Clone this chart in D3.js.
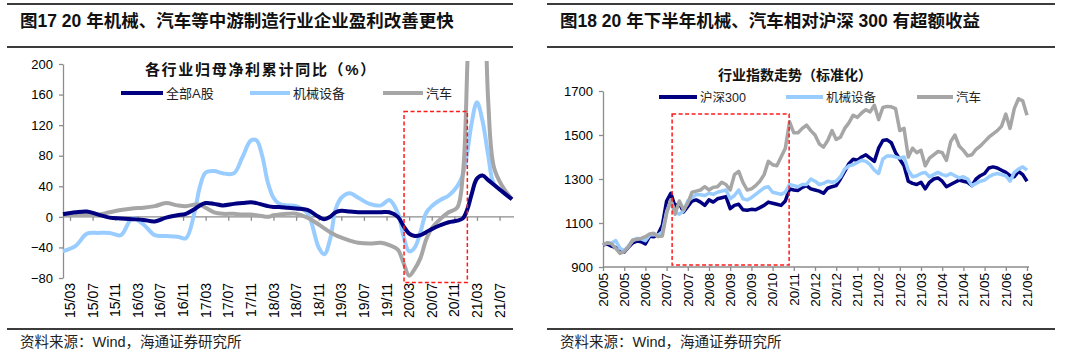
<!DOCTYPE html>
<html><head><meta charset="utf-8">
<script src="https://cdn.jsdelivr.net/npm/d3@7"></script>
<style>
body{margin:0;background:#fff;}
svg text{font-family:"Liberation Sans","Noto Sans CJK SC",sans-serif;}
</style></head><body>
<svg id="c" width="1080" height="357"></svg>
<script>
// ---------------- DATA ----------------
const leftFigTitle = "图17 20 年机械、汽车等中游制造行业企业盈利改善更快";
const rightFigTitle = "图18 20 年下半年机械、汽车相对沪深 300 有超额收益";
const sourceText = "资料来源：Wind，海通证券研究所";

const leftChartTitle = "各行业归母净利累计同比（%）";
const leftSeriesNames = ["全部A股", "机械设备", "汽车"];
const leftXLabels = ["15/03","15/07","15/11","16/03","16/07","16/11","17/03","17/07","17/11","18/03","18/07","18/11","19/03","19/07","19/11","20/03","20/07","20/11","21/03","21/07"];
const leftLabelMonths = [0,4,8,12,16,20,24,28,32,36,40,44,48,52,56,60,64,68,72,76]; // months since 15/03
const leftYTicks = [-80,-40,0,40,80,120,160,200];
// months since 2015/03 at which values are read
const leftMonths = [-1.24,1,3,5,7,9,11,13,15,17,19,20.5,22,23,24,25.5,27,29,30.5,32,33,34,35,36,37,38.5,40,42,44,45,46,47,48,49.5,51,53,55,56.5,58,59,60,61,62,63,64,65.5,67,68.5,69.5,70.3,71,72,73,74,75,76.5,78.2];
const allA = [3.5,6,7,3,-1,-2,-3,-4,-6,-1,2,4,10,15,18,17,15,17,18,19,18,16,14,13,13,12,11,9,0,-3,0,6,8,7,6,6,6,6,0,-12,-22,-25,-24,-20,-16,-11,-7,-5,-2,10,28,50,54,48,42,33,23];
const machinery = [-45,-38,-22,-21,-21,-24,-2,-10,-24,-25,-26,-28,5,40,58,60,57,57,78,100,100,80,45,25,17,15,14,5,-40,-49,-30,10,25,31,25,17,15,22,5,-25,-45,-40,-20,5,14,22,28,40,55,85,120,150,125,80,43,33,23];
const auto = [4,3,3,3,6,9,11,12,14,18,15,14,16,16,12,6,4,4,3,3,2,1,0,2,3,4,4,-1,-10,-15,-20,-24,-27,-31,-34,-35,-34,-37,-43,-60,-77,-68,-54,-30,-15,-3,6,12,55,200,400,500,400,150,65,40,23];
const leftBoxMonths = [59.1, 70.3];
const leftBoxValues = [138, -86];

const rightChartTitle = "行业指数走势（标准化）";
const rightSeriesNames = ["沪深300", "机械设备", "汽车"];
const rightXLabels = ["20/05","20/05","20/06","20/07","20/07","20/08","20/09","20/09","20/10","20/11","20/12","20/12","21/01","21/02","21/02","21/03","21/04","21/04","21/05","21/06","21/06"];
const rightYTicks = [900,1100,1300,1500,1700];
const hs300 = [1000,1005,995,988,972,968,990,1010,1018,1015,
 1005,1040,1038,1050,1090,1200,1235,1175,1190,1150,
 1175,1200,1205,1195,1180,1205,1195,1210,1215,1220,
 1165,1180,1185,1160,1158,1162,1160,1170,1180,1195,
 1190,1185,1180,1200,1255,1250,1248,1262,1270,1255,
 1250,1245,1235,1258,1265,1270,1300,1335,1370,1390,
 1385,1400,1410,1395,1380,1440,1475,1478,1465,1420,
 1390,1360,1290,1280,1275,1285,1255,1285,1300,1305,
 1290,1265,1275,1285,1295,1290,1285,1270,1300,1315,
 1325,1350,1355,1350,1340,1330,1315,1310,1335,1320,1290];
const machIdx = [1000,1010,1008,1020,985,975,995,1020,1030,1028,
 1020,1045,1048,1045,1060,1150,1200,1150,1140,1155,
 1200,1215,1230,1228,1225,1235,1230,1240,1245,1250,
 1210,1225,1250,1210,1205,1215,1230,1245,1260,1265,
 1240,1235,1230,1240,1275,1270,1265,1275,1275,1300,
 1290,1275,1280,1290,1285,1290,1310,1345,1360,1365,
 1375,1385,1380,1365,1340,1325,1390,1405,1405,1400,
 1395,1400,1340,1310,1315,1325,1330,1310,1320,1330,
 1320,1315,1325,1315,1305,1310,1300,1270,1280,1290,
 1295,1310,1320,1325,1320,1315,1290,1330,1345,1355,1340];
const autoIdx = [1000,1010,1005,985,962,970,992,1023,1026,1030,
 1038,1050,1053,1038,1041,1144,1205,1140,1200,1160,
 1190,1240,1245,1250,1265,1250,1262,1265,1285,1275,
 1250,1320,1335,1285,1250,1255,1270,1290,1320,1380,
 1365,1360,1400,1440,1560,1510,1510,1530,1545,1520,
 1500,1460,1445,1475,1520,1480,1490,1530,1555,1590,
 1580,1600,1615,1605,1635,1570,1625,1630,1628,1620,
 1520,1530,1400,1440,1420,1430,1360,1395,1410,1425,
 1420,1385,1470,1500,1450,1430,1405,1410,1435,1450,
 1470,1490,1505,1520,1540,1595,1530,1620,1665,1655,1590];
const rightBoxIdx = [16.3, 43.9];
const rightBoxValues = [1595, 909];

const colors = ["#000080", "#99ccff", "#a6a6a6"];

// ---------------- DRAW ----------------
const svg = d3.select("#c");
const axisColor = "#8c8c8c";

function frame(x0, x1, tx, title) {
  const g = svg.append("g");
  [4, 47, 329].forEach(y => g.append("line").attr("x1", x0).attr("x2", x1).attr("y1", y).attr("y2", y)
    .attr("stroke", "#3c3c3c").attr("stroke-width", 2));
  g.append("text").attr("x", tx).attr("y", 26.5).attr("font-size", 17.5).attr("font-weight", "bold")
    .attr("fill", "#111").text(title);
  g.append("text").attr("x", tx).attr("y", 347).attr("font-size", 14.5).attr("fill", "#222").text(sourceText);
}
frame(7, 513, 20, leftFigTitle);
frame(547, 1055, 560, rightFigTitle);

function styleAxis(g) {
  g.selectAll("path.domain").attr("stroke", axisColor).attr("stroke-width", 1.3);
  g.selectAll(".tick line").attr("stroke", axisColor).attr("stroke-width", 1.3);
  g.selectAll(".tick text").attr("fill", "#000").attr("font-size", 13)
    .attr("font-family", "Liberation Sans, sans-serif");
}

function legend(items, y, fs) {
  items.forEach(it => {
    svg.append("line").attr("x1", it.x0).attr("x2", it.x1).attr("y1", y).attr("y2", y)
      .attr("stroke", it.color).attr("stroke-width", 4);
    svg.append("text").attr("x", it.x1 + 3).attr("y", y).attr("dy", "0.36em").attr("font-size", fs)
      .attr("fill", "#222").text(it.name);
  });
}

// ---- Left chart ----
{
  const x = d3.scaleLinear().domain([-1.24, 78.2]).range([63, 512]);
  const y = d3.scaleLinear().domain([-80, 200]).range([278, 64]);

  const ya = svg.append("g").attr("transform", "translate(63,0)")
    .call(d3.axisLeft(y).tickValues(leftYTicks).tickSize(4).tickSizeOuter(0).tickPadding(6).tickFormat(d3.format("d")));
  styleAxis(ya);

  const xa = svg.append("g").attr("transform", `translate(0,${y(0)})`)
    .call(d3.axisBottom(x).tickValues(leftLabelMonths).tickSize(4).tickSizeOuter(0).tickFormat(""));
  xa.select("path.domain").attr("d", `M63,0H514`);
  styleAxis(xa);

  const lab = svg.append("g");
  leftLabelMonths.forEach((m, i) => {
    lab.append("text").attr("transform", `translate(${x(m)},283) rotate(-90)`)
      .attr("text-anchor", "end").attr("dy", "0.36em").attr("font-size", 14)
      .attr("font-family", "Liberation Sans, sans-serif").attr("fill", "#000").text(leftXLabels[i]);
  });

  svg.append("clipPath").attr("id", "clipL").append("rect").attr("x", 60).attr("y", 61).attr("width", 460).attr("height", 230);
  const line = d3.line().x((d, i) => x(leftMonths[i])).y(d => y(d)).curve(d3.curveCatmullRom.alpha(0.5));
  const order = [[machinery, colors[1]], [auto, colors[2]], [allA, colors[0]]];
  order.forEach(([s, c]) => {
    svg.append("path").attr("clip-path", "url(#clipL)").attr("d", line(s)).attr("fill", "none")
      .attr("stroke", c).attr("stroke-width", 4).attr("stroke-linejoin", "round");
  });

  svg.append("rect").attr("x", x(leftBoxMonths[0])).attr("y", y(leftBoxValues[0]))
    .attr("width", x(leftBoxMonths[1]) - x(leftBoxMonths[0]))
    .attr("height", y(leftBoxValues[1]) - y(leftBoxValues[0]))
    .attr("fill", "none").attr("stroke", "#ff1a1a").attr("stroke-width", 1.5).attr("stroke-dasharray", "4,2.5");

  svg.append("text").attr("x", 261).attr("y", 70).attr("dy", "0.36em").attr("text-anchor", "middle")
    .attr("font-size", 15).attr("font-weight", "bold").attr("letter-spacing", 1.7).attr("fill", "#111").text(leftChartTitle);
  legend([
    {x0: 121, x1: 163, color: colors[0], name: leftSeriesNames[0]},
    {x0: 250, x1: 290, color: colors[1], name: leftSeriesNames[1]},
    {x0: 383, x1: 423, color: colors[2], name: leftSeriesNames[2]}
  ], 93, 13);
}

// ---- Right chart ----
{
  const n = hs300.length;
  const x = d3.scaleLinear().domain([0, n - 1]).range([603, 1027]);
  const y = d3.scaleLinear().domain([900, 1700]).range([267, 91]);
  const labelIdx = rightXLabels.map((d, i) => i * (n - 1) / (rightXLabels.length - 1));

  const ya = svg.append("g").attr("transform", "translate(603,0)")
    .call(d3.axisLeft(y).tickValues(rightYTicks).tickSize(4).tickSizeOuter(0).tickPadding(6).tickFormat(d3.format("d")));
  styleAxis(ya);
  const xa = svg.append("g").attr("transform", `translate(0,${y(900)})`)
    .call(d3.axisBottom(x).tickValues(labelIdx).tickSize(4).tickSizeOuter(0).tickFormat(""));
  xa.select("path.domain").attr("d", `M603,0H1029`);
  styleAxis(xa);
  labelIdx.forEach((v, i) => {
    svg.append("text").attr("transform", `translate(${x(v)},273) rotate(-90)`)
      .attr("text-anchor", "end").attr("dy", "0.36em").attr("font-size", 13.5)
      .attr("font-family", "Liberation Sans, sans-serif").attr("fill", "#000").text(rightXLabels[i]);
  });

  const line = d3.line().x((d, i) => x(i)).y(d => y(d));
  [[hs300, colors[0]], [machIdx, colors[1]], [autoIdx, colors[2]]].forEach(([s, c]) => {
    svg.append("path").attr("d", line(s)).attr("fill", "none").attr("stroke", c)
      .attr("stroke-width", 3.5).attr("stroke-linejoin", "round");
  });

  svg.append("rect").attr("x", x(rightBoxIdx[0])).attr("y", y(rightBoxValues[0]))
    .attr("width", x(rightBoxIdx[1]) - x(rightBoxIdx[0]))
    .attr("height", y(rightBoxValues[1]) - y(rightBoxValues[0]))
    .attr("fill", "none").attr("stroke", "#ff1a1a").attr("stroke-width", 1.5).attr("stroke-dasharray", "4,2.5");

  svg.append("text").attr("x", 795).attr("y", 75).attr("dy", "0.36em").attr("text-anchor", "middle")
    .attr("font-size", 14).attr("font-weight", "bold").attr("fill", "#111").text(rightChartTitle);
  legend([
    {x0: 659, x1: 697, color: colors[0], name: rightSeriesNames[0]},
    {x0: 786, x1: 823, color: colors[1], name: rightSeriesNames[1]},
    {x0: 917, x1: 953, color: colors[2], name: rightSeriesNames[2]}
  ], 97, 12.5);
}
</script>
</body></html>
